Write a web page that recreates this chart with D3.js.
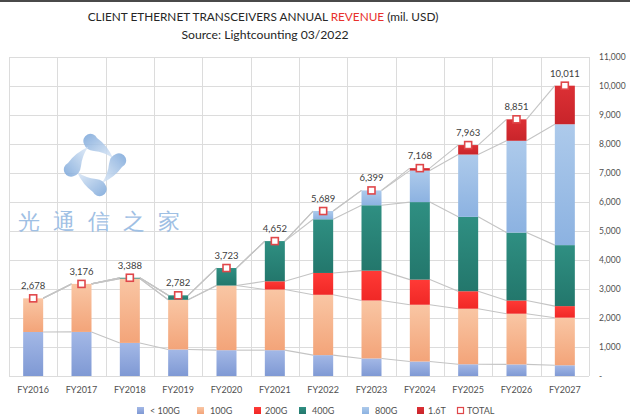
<!DOCTYPE html>
<html><head><meta charset="utf-8">
<script src="https://cdn.jsdelivr.net/npm/d3@7"></script>
<style>body{margin:0;background:#fff}svg{display:block}text{font-family:Lato,"Open Sans",sans-serif}</style>
</head><body>
<svg id="c" width="630" height="416"></svg>
<script>
const years = ["FY2016","FY2017","FY2018","FY2019","FY2020","FY2021","FY2022","FY2023","FY2024","FY2025","FY2026","FY2027"];
const seriesNames = ["< 100G","100G","200G","400G","800G","1.6T"];
const sub100G = [1518,1520,1141,915,891,891,720,606,500,405,400,370];
const g100G   = [1160,1656,2217,1713,2228,2090,2080,1998,1957,1915,1748,1641];
const g200G   = [0,0,0,0,0,285,753,1029,867,603,456,399];
const g400G   = [0,0,30,154,604,1386,1851,2255,2673,2565,2342,2103];
const g800G   = [0,0,0,0,0,0,285,511,1086,2149,3165,4168];
const g1600G  = [0,0,0,0,0,0,0,0,85,326,740,1330];
const totals  = [2678,3176,3388,2782,3723,4652,5689,6399,7168,7963,8851,10011];
const yTicks  = [0,1000,2000,3000,4000,5000,6000,7000,8000,9000,10000,11000];

const seriesVals = [sub100G,g100G,g200G,g400G,g800G,g1600G];
const colors = [["#a3b8e6","#7f99d4"],["#f9c6a4","#f3a479"],["#ff3a36","#f02826"],["#2f8f82","#23776c"],["#adcaeb","#8cb2e1"],["#dc3035","#c8242a"]];

const svg = d3.select("#c");
const defs = svg.append("defs");
colors.forEach((c,i)=>{
  const g = defs.append("linearGradient").attr("id","g"+i).attr("x1",0).attr("y1",0).attr("x2",0).attr("y2",1);
  g.append("stop").attr("offset","0%").attr("stop-color",c[0]);
  g.append("stop").attr("offset","100%").attr("stop-color",c[1]);
});

svg.append("rect").attr("x",0).attr("y",0).attr("width",630).attr("height",2).attr("fill","#4a4a4a");

const L = 9, R = 589;
const x = d3.scaleBand().domain(years).range([L,R]).paddingInner(0.586).paddingOuter(0.293);
const y = d3.scaleLinear().domain([0,11000]).range([376,57]);
const step = x.step(), bw = x.bandwidth();

// gridlines
const grid = svg.append("g").attr("stroke","#dcdcdc").attr("stroke-width",1);
yTicks.forEach(t=>grid.append("line").attr("x1",L).attr("x2",R).attr("y1",Math.round(y(t))+0.5).attr("y2",Math.round(y(t))+0.5));
d3.range(years.length+1).forEach(i=>{
  const xx = Math.round(L + i*step)+0.5;
  grid.append("line").attr("x1",xx).attr("x2",xx).attr("y1",y(11000)).attr("y2",y(0));
});

// watermark
const wm = svg.append("g").attr("transform","translate(95,165)").attr("opacity",0.85);
const wg = defs.append("linearGradient").attr("id","wmg").attr("x1",0).attr("y1",0).attr("x2",1).attr("y2",1);
wg.append("stop").attr("offset","0%").attr("stop-color","#76a3d8");
wg.append("stop").attr("offset","100%").attr("stop-color","#dde9f7");
[0,90,180,270].forEach(a=>{
  wm.append("path").attr("transform",`rotate(${a})`)
    .attr("d","M -11,-21 A 7 7 0 1 1 2,-27 Q 12,-20 18,-7 Q 9,-13 -1,-14 Q -9,-15 -11,-21 Z")
    .attr("fill","url(#wmg)");
});
svg.append("text").attr("x",18).attr("y",229).attr("font-size",22).attr("letter-spacing",13)
  .attr("font-weight",500)
  .attr("fill","#9fc0e4").attr("font-family","'Noto Sans CJK SC',sans-serif").text("光通信之家");

// stacked data
const table = years.map((yr,i)=>{const o={year:yr}; seriesNames.forEach((s,k)=>o[s]=seriesVals[k][i]); return o;});
const stacked = d3.stack().keys(seriesNames)(table);

// series lines
const sl = svg.append("g").attr("stroke","#c4c4c4").attr("stroke-width",1.1).attr("fill","none");
stacked.forEach(layer=>{
  for(let i=0;i<years.length-1;i++){
    sl.append("line").attr("x1",x(years[i])+bw).attr("y1",y(layer[i][1]))
      .attr("x2",x(years[i+1])).attr("y2",y(layer[i+1][1]));
  }
});

// bars
stacked.forEach((layer,k)=>{
  svg.append("g").selectAll("rect").data(layer).join("rect")
    .attr("x",(d,i)=>x(years[i])).attr("width",bw)
    .attr("y",d=>y(d[1])).attr("height",d=>Math.max(0,y(d[0])-y(d[1])))
    .attr("fill","url(#g"+k+")");
});

// total markers & labels
const fmt = d3.format(",");
svg.append("g").selectAll("rect").data(totals).join("rect")
  .attr("x",(d,i)=>x(years[i])+bw/2-3.5).attr("y",d=>y(d)-3.5).attr("width",7).attr("height",7)
  .attr("fill","#fff").attr("stroke","#e0474a").attr("stroke-width",1.6);
svg.append("g").selectAll("text").data(totals).join("text")
  .attr("x",(d,i)=>x(years[i])+bw/2).attr("y",d=>y(d)-9).attr("text-anchor","middle")
  .attr("font-size",9.5).attr("fill","#404040").text(d=>fmt(d));

// x axis labels
svg.append("g").selectAll("text").data(years).join("text")
  .attr("x",d=>x(d)+bw/2).attr("y",393).attr("text-anchor","middle")
  .attr("font-size",9).attr("fill","#505050").text(d=>d);

// right axis
svg.append("g").selectAll("text").data(yTicks).join("text")
  .attr("x",599).attr("y",d=>y(d)+3).attr("font-size",8.5).attr("fill","#505050")
  .text(d=>d===0?"-":fmt(d));

// title
const title = svg.append("text").attr("x",263).attr("y",21).attr("text-anchor","middle").attr("font-size",11.8).attr("fill","#262626");
title.append("tspan").text("CLIENT ETHERNET TRANSCEIVERS ANNUAL ");
title.append("tspan").attr("fill","#e8302c").text("REVENUE");
title.append("tspan").text(" (mil. USD)");
svg.append("text").attr("x",265).attr("y",39).attr("text-anchor","middle").attr("font-size",12.2).attr("fill","#262626")
  .text("Source: Lightcounting 03/2022");

// legend
const legendItems = [
  {name:"< 100G",k:0,sx:137,tx:150},{name:"100G",k:1,sx:197,tx:210},{name:"200G",k:2,sx:254,tx:265},
  {name:"400G",k:3,sx:299,tx:312},{name:"800G",k:4,sx:362,tx:375},{name:"1.6T",k:5,sx:417,tx:428},
  {name:"TOTAL",k:-1,sx:457,tx:467}];
const lg = svg.append("g");
legendItems.forEach(it=>{
  if(it.k>=0) lg.append("rect").attr("x",it.sx).attr("y",407).attr("width",7).attr("height",7).attr("fill","url(#g"+it.k+")");
  else lg.append("rect").attr("x",it.sx+0.5).attr("y",407.5).attr("width",6).attr("height",6).attr("fill","#fff").attr("stroke","#e0474a").attr("stroke-width",1.2);
  lg.append("text").attr("x",it.tx).attr("y",414).attr("font-size",9).attr("fill","#505050").text(it.name);
});
</script>
</body></html>
